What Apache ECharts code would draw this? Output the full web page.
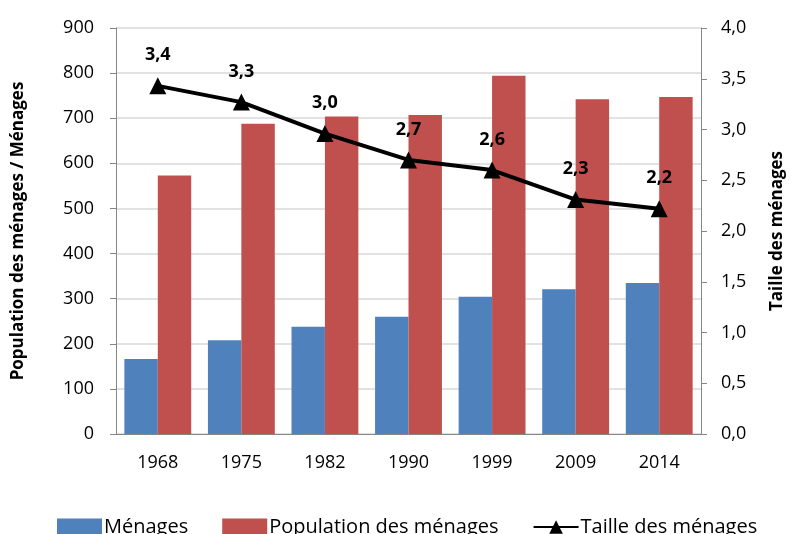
<!DOCTYPE html>
<html lang="fr">
<head>
  <meta charset="UTF-8">
  <title>Ménages</title>
  <style>
    body { margin: 0; }
    #main { width: 794px; height: 534px; }
  </style>
</head>
<body>
  <div id="main"></div>
  <script src="https://cdn.jsdelivr.net/npm/echarts@6/dist/echarts.min.js"></script>
  <script>
    var years = ['1968', '1975', '1982', '1990', '1999', '2009', '2014'];
    var menages = [166, 208, 238, 260, 304, 321, 335];
    var population = [573, 688, 704, 707, 794, 742, 747];
    var taille = [3.43, 3.27, 2.96, 2.70, 2.60, 2.31, 2.22];

    var font = '"Open Sans", "Noto Sans", sans-serif';
    var myChart = echarts.init(document.getElementById('main'));

    var option = {
      backgroundColor: '#fff',
      animation: false,
      textStyle: { fontFamily: font },
      grid: { left: 116, right: 86, top: 28, bottom: 100 },
      legend: {
        top: 512,
        left: 52,
        itemWidth: 45,
        itemHeight: 17,
        itemGap: 34,
        textStyle: { fontSize: 20, color: '#000', fontFamily: font, padding: [0, 0, 0, -3] },
        data: [
          { name: 'Ménages', icon: 'rect' },
          { name: 'Population des ménages', icon: 'rect' },
          { name: 'Taille des ménages' }
        ]
      },
      xAxis: {
        type: 'category',
        data: years,
        axisLine: { lineStyle: { color: '#868686', width: 1 } },
        axisTick: { length: 6, lineStyle: { color: '#868686' } },
        axisLabel: { fontSize: 18, color: '#000', margin: 20 }
      },
      yAxis: [{
        type: 'value',
        min: 0,
        max: 900,
        interval: 100,
        name: 'Population des ménages / Ménages',
        nameLocation: 'middle',
        nameRotate: 90,
        nameGap: 89,
        nameTextStyle: { fontSize: 17, fontWeight: 'bold', color: '#000' },
        axisLine: { show: true, lineStyle: { color: '#868686' } },
        axisTick: { show: true, length: 6, lineStyle: { color: '#868686' } },
        axisLabel: { fontSize: 18, color: '#000', margin: 22 },
        splitLine: { lineStyle: { color: '#d9d9d9', width: 1.5 } }
      }, {
        type: 'value',
        min: 0,
        max: 4,
        interval: 0.5,
        name: 'Taille des ménages',
        nameLocation: 'middle',
        nameRotate: 90,
        nameGap: 68,
        nameTextStyle: { fontSize: 17, fontWeight: 'bold', color: '#000' },
        axisLine: { show: true, lineStyle: { color: '#868686' } },
        axisTick: { show: true, length: 6, lineStyle: { color: '#868686' } },
        axisLabel: {
          fontSize: 18, color: '#000', margin: 20,
          formatter: function (v) { return v.toFixed(1).replace('.', ','); }
        },
        splitLine: { show: false }
      }],
      series: [{
        name: 'Ménages',
        type: 'bar',
        data: menages,
        barGap: '0%',
        barCategoryGap: '20%',
        itemStyle: { color: '#4F81BD' }
      }, {
        name: 'Population des ménages',
        type: 'bar',
        data: population,
        itemStyle: { color: '#C0504D' }
      }, {
        name: 'Taille des ménages',
        type: 'line',
        yAxisIndex: 1,
        data: taille,
        symbol: 'triangle',
        symbolSize: 17,
        lineStyle: { color: '#000', width: 4 },
        itemStyle: { color: '#000' },
        label: {
          show: true,
          position: 'top',
          distance: 13,
          fontSize: 18,
          fontWeight: 'bold',
          color: '#000',
          formatter: function (p) { return p.value.toFixed(1).replace('.', ','); }
        },
        z: 5
      }]
    };

    myChart.setOption(option);
  </script>
</body>
</html>
